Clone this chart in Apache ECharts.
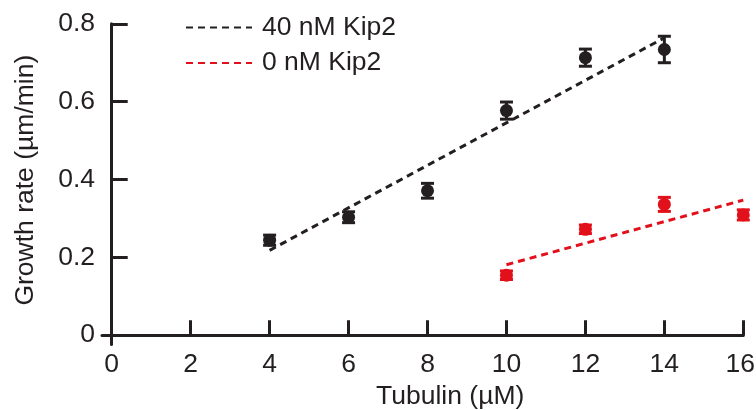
<!DOCTYPE html>
<html>
<head>
<meta charset="utf-8">
<script src="https://cdn.jsdelivr.net/npm/echarts@6/dist/echarts.min.js"></script>
<style>
  html, body { margin: 0; padding: 0; background: #fff; }
  #chart { width: 756px; height: 410px; }
</style>
</head>
<body>
<div id="chart"></div>
<script>
// Microtubule growth rate vs tubulin concentration, with and without Kip2
const tubulin40 = [4, 6, 8, 10, 12, 14];
const rate40 = [0.244, 0.303, 0.371, 0.577, 0.713, 0.734];
const err40 = [0.013, 0.014, 0.019, 0.022, 0.022, 0.034];

const tubulin0 = [10, 12, 14, 16];
const rate0 = [0.154, 0.272, 0.336, 0.309];
const err0 = [0.011, 0.011, 0.018, 0.013];

// Linear fit end points
const fit40 = [[4, 0.218], [14, 0.764]];
const fit0 = [[10, 0.181], [16, 0.347]];

const xTicks = [2, 4, 6, 8, 10, 12, 14, 16];
const xLabels = [0, 2, 4, 6, 8, 10, 12, 14, 16];
const yTicks = [0.2, 0.4, 0.6, 0.8];
const yLabels = [0, 0.2, 0.4, 0.6, 0.8];

const INK = '#231f20';
const RED = '#e2101a';
const FONT = '"Liberation Sans", Arial, Helvetica, sans-serif';
const FS = 26.5;

function points(xs, ys) { return xs.map((x, i) => [x, ys[i]]); }
function bars(xs, ys, es) { return xs.map((x, i) => [x, ys[i] - es[i], ys[i] + es[i]]); }

function errorBars(color) {
  return function (params, api) {
    const x = api.value(0);
    const lo = api.coord([x, api.value(1)]);
    const hi = api.coord([x, api.value(2)]);
    const half = 6.5;
    const style = { stroke: color, lineWidth: 3 };
    return {
      type: 'group',
      children: [
        { type: 'line', shape: { x1: lo[0], y1: lo[1], x2: hi[0], y2: hi[1] }, style },
        { type: 'line', shape: { x1: lo[0] - half, y1: lo[1], x2: lo[0] + half, y2: lo[1] }, style },
        { type: 'line', shape: { x1: hi[0] - half, y1: hi[1], x2: hi[0] + half, y2: hi[1] }, style }
      ]
    };
  };
}

const xMax = xLabels[xLabels.length - 1];

const chart = echarts.init(document.getElementById('chart'), null, { renderer: 'canvas' });

chart.setOption({
  animation: false,
  backgroundColor: '#ffffff',
  textStyle: { fontFamily: FONT, color: INK },
  grid: { left: 102, right: 12.7, top: 23.8, bottom: 65.5, containLabel: false, outerBoundsMode: 'none' },
  legend: {
    orient: 'vertical',
    left: 180,
    top: 9,
    itemWidth: 66,
    itemHeight: 30,
    itemGap: 8.5,
    data: ['40 nM Kip2', '0 nM Kip2'],
    itemStyle: { opacity: 0, borderWidth: 0 },
    textStyle: { fontFamily: FONT, fontSize: FS, color: INK, padding: [0, 0, 0, 5] }
  },
  xAxis: {
    type: 'value',
    min: -0.246,
    max: 16,
    name: 'Tubulin (µM)',
    nameLocation: 'middle',
    nameGap: 34,
    nameTextStyle: { fontFamily: FONT, fontSize: FS, color: INK, padding: [0, 0, 0, 55] },
    splitLine: { show: false },
    axisLine: { show: true, lineStyle: { color: INK, width: 3 } },
    axisTick: { show: true, inside: true, length: 15, customValues: xTicks, lineStyle: { color: INK, width: 3 } },
    axisLabel: {
      customValues: xLabels,
      margin: 7,
      fontFamily: FONT,
      fontSize: FS,
      color: INK,
      // the last label sits a little left of its tick so it stays inside the frame
      formatter: v => (v === xMax ? '{last|' + v + '}' : String(v)),
      rich: { last: { fontFamily: FONT, fontSize: FS, color: INK, padding: [0, 6, 0, 0] } }
    }
  },
  yAxis: {
    type: 'value',
    min: -0.024,
    max: 0.8,
    name: 'Growth rate (µm/min)',
    nameLocation: 'middle',
    nameGap: 63,
    nameTextStyle: { fontFamily: FONT, fontSize: FS, color: INK, padding: [0, 0, 0, 8] },
    splitLine: { show: false },
    axisLine: { show: true, lineStyle: { color: INK, width: 3 } },
    axisTick: { show: true, inside: true, length: 16, customValues: yTicks, lineStyle: { color: INK, width: 3 } },
    axisLabel: { customValues: yLabels, margin: 7, fontFamily: FONT, fontSize: FS, color: INK }
  },
  series: [
    {
      name: '40 nM Kip2',
      type: 'line',
      data: fit40,
      symbol: 'none',
      z: 2,
      lineStyle: { color: INK, width: 3, type: [7, 5] },
      itemStyle: { color: INK }
    },
    {
      name: '0 nM Kip2',
      type: 'line',
      data: fit0,
      symbol: 'none',
      z: 2,
      lineStyle: { color: RED, width: 3, type: [7, 5] },
      itemStyle: { color: RED }
    },
    {
      type: 'custom',
      data: bars(tubulin40, rate40, err40),
      renderItem: errorBars(INK),
      encode: { x: 0, y: [1, 2] },
      z: 3
    },
    {
      type: 'custom',
      data: bars(tubulin0, rate0, err0),
      renderItem: errorBars(RED),
      encode: { x: 0, y: [1, 2] },
      z: 3
    },
    {
      type: 'scatter',
      data: points(tubulin40, rate40),
      symbol: 'circle',
      symbolSize: 13,
      itemStyle: { color: INK, opacity: 1 },
      z: 4
    },
    {
      type: 'scatter',
      data: points(tubulin0, rate0),
      symbol: 'circle',
      symbolSize: 13,
      itemStyle: { color: RED, opacity: 1 },
      z: 4
    }
  ]
});
</script>
</body>
</html>
